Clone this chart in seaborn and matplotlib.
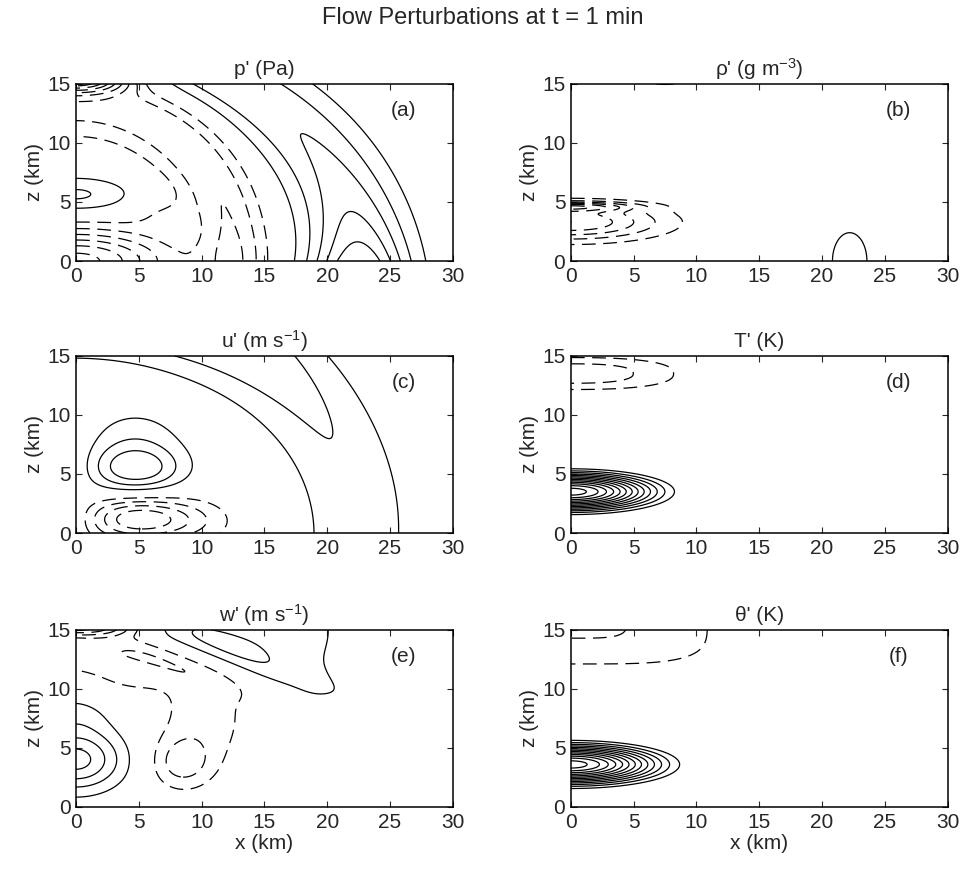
import numpy as np
import seaborn as sns
import matplotlib.pyplot as plt

sns.set_style("ticks")
plt.rcParams['font.family'] = ['Liberation Sans', 'DejaVu Sans']
plt.rcParams['mathtext.fontset'] = 'custom'
plt.rcParams['mathtext.rm'] = 'Liberation Sans'
plt.rcParams['mathtext.default'] = 'regular'

# model domain (km)
x = np.linspace(0, 30, 601)
z = np.linspace(0, 15, 301)
X, Z = np.meshgrid(x, z)

# field pieces, one row per feature:
# (x0, z0, x scale, z scale, ring radius, ring width, amplitude,
#  e-fold height, shape power, tilt deg)
p_parts = [
    (0, 0, 1.0, 0.8, 22.5, 4.0, 1.35, 0, 2, 0),
    (0, 0, 1.0, 0.8, 22.5, 4.0, 1.65, 4.5, 2, 0),
    (0, 0, 1.0, 1.1, 12.5, 2.8, -1.5, 0, 2, 0),
    (0, 15.4, 4.0, 1.1, 0, 1, -4.2, 0, 2, 0),
    (0, 0, 7.4, 2.6, 0, 1, -3.2, 0, 2, 0),
    (6.8, 4.0, 2.2, 1.4, 0, 1, -0.4, 0, 2, 0),
    (0, 5.6, 4.6, 1.6, 0, 1, 1.1, 0, 2, 0),
]
rho_parts = [
    (0, 3.3, 7.0, 1.5, 0, 1, -2.5, 0, 2, 0),
    (0, 4.6, 5.0, 0.4, 0, 1, -2.0, 0, 2, 0),
    (22.2, 0, 2.0, 3.5, 0, 1, 0.8, 0, 2, 0),
    (7.5, 15.15, 1.8, 0.35, 0, 1, 0.7, 0, 2, 0),
]
u_parts = [
    (4.8, 5.4, 3.6, 1.8, 0, 1, 2.6, 0, 2, 0),
    (-4.8, 5.4, 3.6, 1.8, 0, 1, -2.6, 0, 2, 0),
    (4.6, 7.0, 4.2, 3.5, 0, 1, 1.8, 0, 2, 0),
    (-4.6, 7.0, 4.2, 3.5, 0, 1, -1.8, 0, 2, 0),
    (4.8, 1.2, 4.2, 1.8, 0, 1, -4.8, 0, 2, 0),
    (-4.8, 1.2, 4.2, 1.8, 0, 1, 4.8, 0, 2, 0),
    (9.5, 1.0, 3.5, 2.0, 0, 1, -1.3, 0, 2, 0),
    (0, 0, 1.0, 0.82, 22.3, 4.4, 1.75, 0, 2, 0),
    (0, 0, 1.0, 0.82, 23.0, 4.4, 0.046, -4.66, 2, 0),
]
w_parts = [
    (0, 4.0, 3.7, 2.6, 0, 1, 4.4, 0, 2, 0),
    (0, 8.0, 3.0, 2.0, 0, 1, 1.1, 0, 2, 0),
    (8.4, 3.7, 2.4, 2.2, 0, 1, -2.2, 0, 2, 0),
    (10.2, 7.5, 3.8, 4.5, 0, 1, -1.5, 0, 2, 0),
    (7.5, 12.2, 6.0, 1.3, 0, 1, -1.3, 0, 2, -21),
    (4.0, 10.8, 4.0, 1.8, 0, 1, -1.0, 0, 2, 0),
    (0, 13.0, 6.0, 1.6, 0, 1, -1.6, 0, 2, 0),
    (0, 15.2, 4.5, 0.7, 0, 1, -5.0, 0, 2, 0),
    (12.5, 13.0, 11.0, 1.6, 0, 1, 1.7, 0, 2, -21),
    (11.5, 14.6, 5.0, 1.4, 0, 1, 1.2, 0, 2, -21),
    (16.5, 15.2, 3.5, 2.2, 0, 1, 1.0, 0, 2, 0),
    (19.0, 14.5, 1.4, 3.5, 0, 1, 1.2, 0, 2, 0),
]
T_parts = [(0, 13.5, 7.8, 1.29, 0, 1, -0.3, 0, 2.5, 0)]
th_parts = [(0, 15.8, 11.9, 4.05, 0, 1, -0.23, 0, 4, 0)]

# warm bubble: (x centre, z centre, x radius, z radius, amplitude)
T_bubble = (0, 3.5, 10.0, 2.35, 1.35)
th_bubble = (0, 3.6, 10.5, 2.47, 1.35)

p_levels = [-4, -3.5, -3, -2.5, -2, -1.5, -1, -0.5, 0.5, 1, 1.5, 2, 2.5]
rho_levels = [-4.5, -4, -3.5, -3, -2.5, -2, -1.5, -1, -0.5, 0.5]
u_levels = [-4, -3, -2, -1, 1, 2, 3]
w_levels = [-5, -4, -3, -2, -1, 1, 2, 3, 4]
bub_levels = [-0.2, -0.1] + [round(0.1 * k, 1) for k in range(1, 14)]

titles = ["p' (Pa)", "ρ' (g m$^{-3}$)", "u' (m s$^{-1}$)", "T' (K)",
          "w' (m s$^{-1}$)", "θ' (K)"]
tags = ['(a)', '(b)', '(c)', '(d)', '(e)', '(f)']


def build(parts):
    F = np.zeros_like(X)
    for cx, cz, sx, sz, r0, w, amp, hz, pw, ang in parts:
        t = np.radians(ang)
        dx = (X - cx) * np.cos(t) + (Z - cz) * np.sin(t)
        dz = -(X - cx) * np.sin(t) + (Z - cz) * np.cos(t)
        r = (np.abs(dx / sx) ** pw + np.abs(dz / sz) ** pw) ** (1.0 / pw)
        g = amp * np.exp(-((r - r0) / w) ** 2)
        if hz:
            g = g * np.exp(-Z / hz)
        F += g
    return F


def bubble(cx, cz, rx, rz, amp):
    L = np.hypot((X - cx) / rx, (Z - cz) / rz)
    return np.where(L < 1, amp * np.cos(np.pi * L / 2) ** 2, 0.0)


fields = [build(p_parts), build(rho_parts), build(u_parts),
          build(T_parts) + bubble(*T_bubble),
          build(w_parts), build(th_parts) + bubble(*th_bubble)]
levels = [p_levels, rho_levels, u_levels, bub_levels, w_levels, bub_levels]

fig = plt.figure(figsize=(9.66, 8.71), dpi=100)
lefts = [0.0787, 0.591]
bottoms = [0.7003, 0.388, 0.0735]

for i in range(6):
    row, col = divmod(i, 2)
    ax = fig.add_axes([lefts[col], bottoms[row], 0.390, 0.2035])
    lv = levels[i]
    ls = ['solid' if v > 0 else (0, (11, 6)) for v in lv]
    ax.contour(X, Z, fields[i], levels=lv, colors='black',
               linewidths=0.9, linestyles=ls)
    ax.set_xlim(0, 30)
    ax.set_ylim(0, 15)
    ax.set_xticks(range(0, 31, 5))
    ax.set_yticks([0, 5, 10, 15])
    ax.tick_params(direction='in', top=True, right=True, length=4,
                   width=0.8, labelsize=15, pad=4)
    for s in ax.spines.values():
        s.set_linewidth(1.1)
        s.set_color('black')
    ax.set_title(titles[i], fontsize=15, pad=6)
    ax.set_ylabel('z (km)', fontsize=15, labelpad=2)
    if row == 2:
        ax.set_xlabel('x (km)', fontsize=15, labelpad=2)
    ax.text(0.87, 0.85, tags[i], transform=ax.transAxes, fontsize=15,
            ha='center', va='center')

fig.suptitle('Flow Perturbations at t = 1 min', fontsize=17, y=0.992)
fig.savefig('out.png', dpi=100)
